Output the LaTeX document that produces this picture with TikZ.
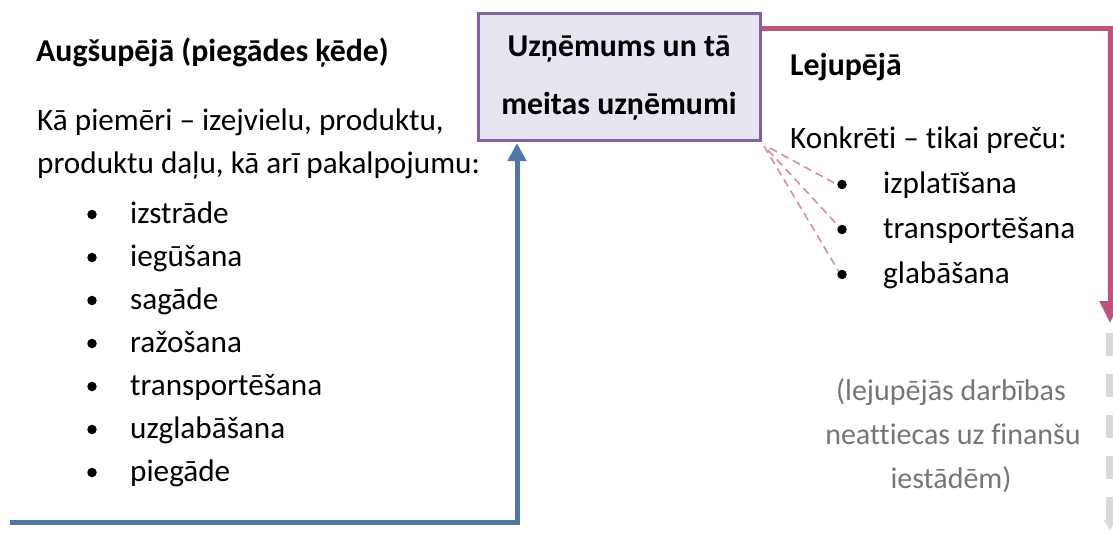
\documentclass[tikz,border=0pt]{standalone}
\usepackage{fontspec}
\setmainfont{Carlito}[Ligatures=NoCommon]
\usetikzlibrary{arrows.meta}
\definecolor{boxpurple}{RGB}{128,100,162}
\definecolor{boxfill}{RGB}{232,228,240}
\definecolor{pinkline}{RGB}{190,82,122}
\definecolor{pinkdash}{RGB}{214,140,168}
\definecolor{blueline}{RGB}{79,120,168}
\definecolor{grayline}{RGB}{217,217,217}
\definecolor{graytext}{RGB}{118,118,118}
\begin{document}
\begin{tikzpicture}[x=1pt,y=-1pt,
  txt/.style={anchor=base west,inner sep=0pt,font=\fontsize{31.2}{31.2}\selectfont},
  hdr/.style={anchor=base west,inner sep=0pt,font=\fontsize{31.8}{31.8}\selectfont\bfseries},
  btxt/.style={anchor=base,inner sep=0pt,font=\fontsize{31.8}{31.8}\selectfont\bfseries},
  gtxt/.style={anchor=base,inner sep=0pt,text=graytext,font=\fontsize{30}{30}\selectfont},
  dot/.style={circle,fill=black,inner sep=0pt,minimum size=9.5pt},
  mainbox/.style={draw=boxpurple,fill=boxfill,line width=3pt,inner sep=0pt},
  pinkdashed/.style={draw=pinkdash,line width=1.6pt,dash pattern=on 8pt off 5pt},
]
\useasboundingbox (0,0) rectangle (1113,533);
% main box
\node[mainbox,minimum width=282pt,minimum height=127pt] (box) at (619,76.5) {};
\node[btxt] (bt1) at (619,56) {Uzņēmums un tā};
\node[btxt] (bt2) at (619,114) {meitas uzņēmumi};

% left side
\node[hdr] (lh) at (36,61) {Augšupējā (piegādes ķēde)};
\node[txt] (l1) at (37,130) {Kā piemēri – izejvielu, produktu,};
\node[txt] (l2) at (37,173) {produktu daļu, kā arī pakalpojumu:};
\foreach \i/\t [count=\n] in {223/izstrāde,266/iegūšana,309/sagāde,352/ražošana,395/transportēšana,438/uzglabāšana,481/piegāde}{
  \node[dot] (ld\n) at (92,\i-8.5) {};
  \node[txt] (lt\n) at (130,\i) {\t};
}

% right side
\node[hdr] (rh) at (790,75) {Lejupējā};
\node[txt] (r1) at (790,148) {Konkrēti – tikai preču:};
\foreach \i/\t [count=\n] in {193/izplatīšana,238/transportēšana,283/glabāšana}{
  \node[dot] (rd\n) at (842,\i-8.5) {};
  \node[txt] (rt\n) at (883,\i) {\t};
}
\node[gtxt] (g1) at (951,400) {(lejupējās darbības};
\node[gtxt] (g2) at (953,444) {neattiecas uz finanšu};
\node[gtxt] (g3) at (951,488) {iestādēm)};

% blue arrow
\coordinate (bstart) at (10,522);
\coordinate (bcorner) at (517,522);
\coordinate (btip) at (517,143);
\draw[blueline,line width=5pt,-{Triangle[width=18pt,length=18pt]}] (bstart) -- (bcorner) -- (btip);

% pink arrow
\coordinate (pstart) at (box.east |- 0,28);
\coordinate (pcorner) at (1110,28);
\coordinate (ptip) at (1110,323);
\draw[pinkline,line width=5pt,-{Triangle[width=20pt,length=22pt]}] (pstart) -- (pcorner) -- (ptip);

% gray dashed arrow
\coordinate (gstart) at (1110,333);
\coordinate (gtip) at (1110,530);
\draw[grayline,line width=8pt,dash pattern=on 23pt off 18pt,-{Triangle[width=12pt,length=10pt]}] (gstart) -- (gtip);

% pink dashed connectors
\coordinate (c1) at (770,148);
\coordinate (c2) at (768,150);
\coordinate (c3) at (764,146);
\draw[pinkdashed] (c1) -- (rd1.west);
\draw[pinkdashed] (c2) -- (rd2.north west);
\draw[pinkdashed] (c3) -- (rd3.north west);
\end{tikzpicture}
\end{document}
